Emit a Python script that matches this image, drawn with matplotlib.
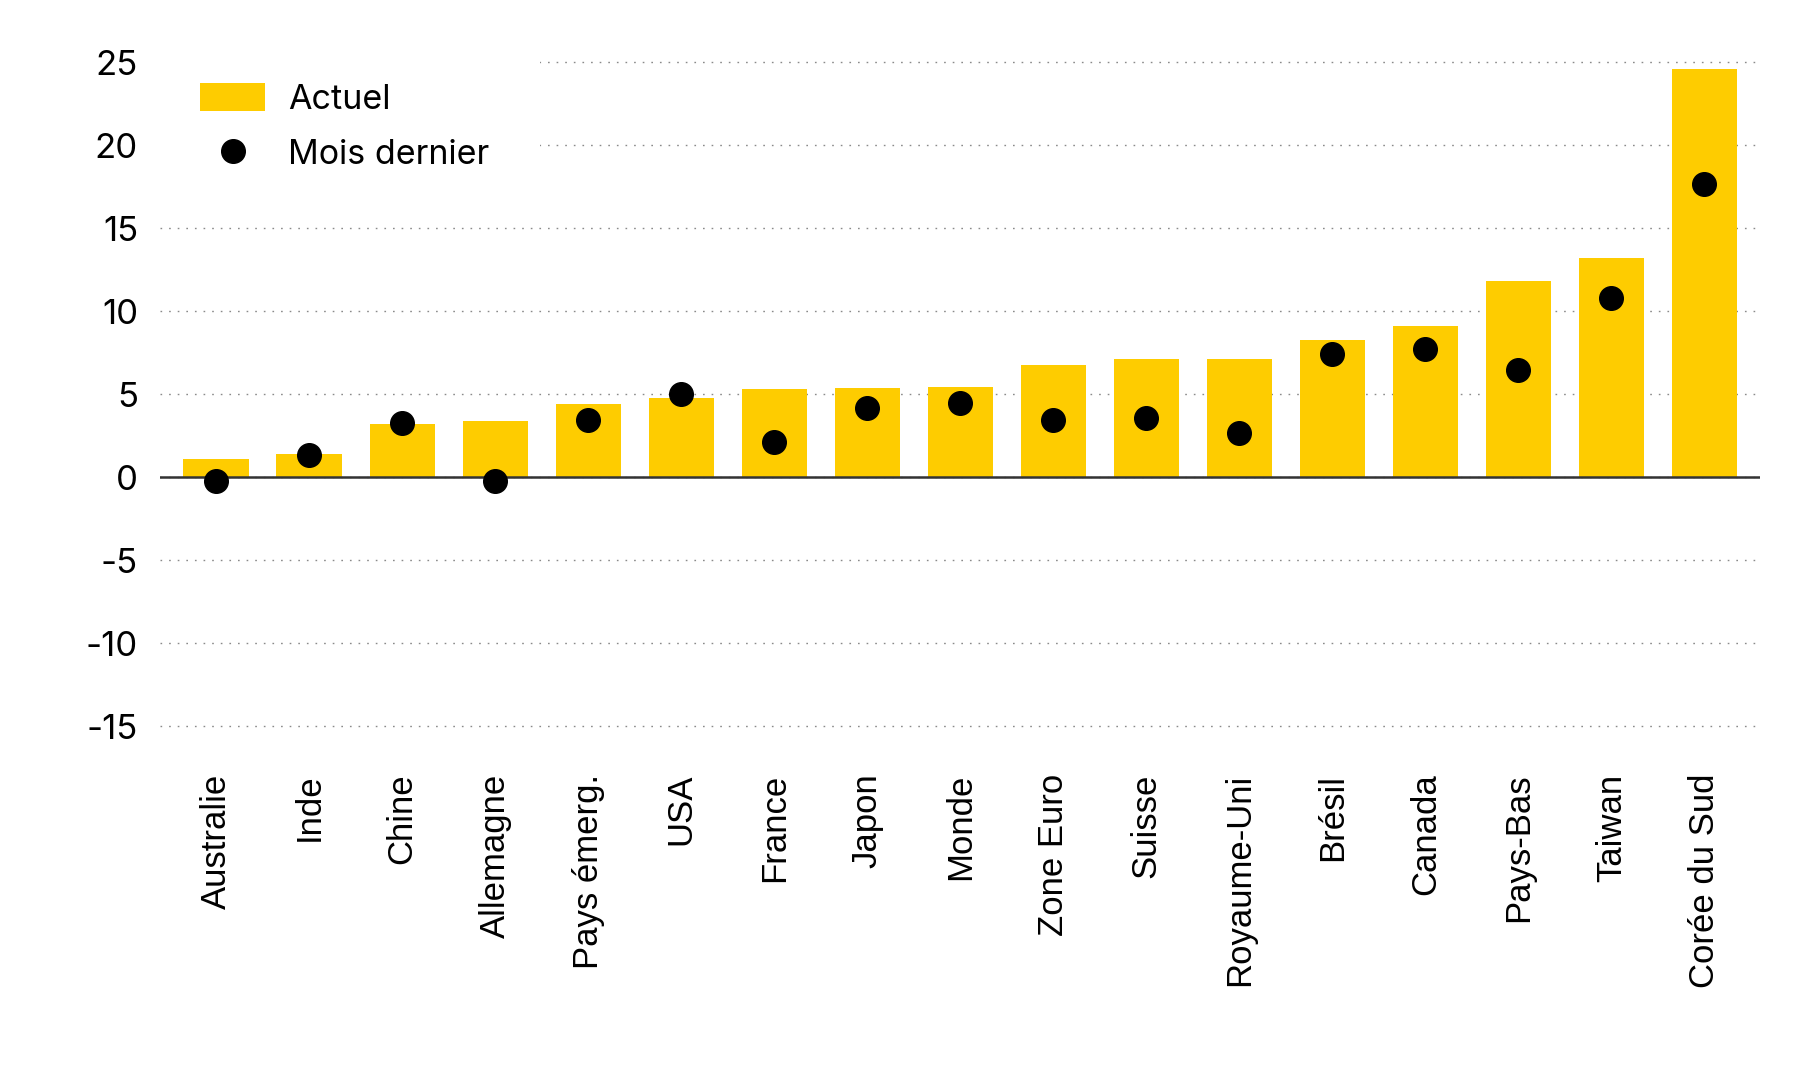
import matplotlib.pyplot as plt
import numpy as np

# Data
countries = ['Australie', 'Inde', 'Chine', 'Allemagne', 'Pays émerg.', 'USA',
             'France', 'Japon', 'Monde', 'Zone Euro', 'Suisse', 'Royaume-Uni',
             'Brésil', 'Canada', 'Pays-Bas', 'Taiwan', 'Corée du Sud']
actuel = [1.1, 1.4, 3.2, 3.4, 4.4, 4.8, 5.3, 5.4, 5.45, 6.75, 7.1, 7.15,
          8.3, 9.1, 11.8, 13.2, 24.6]
mois_dernier = [-0.25, 1.35, 3.3, -0.2, 3.45, 5.0, 2.15, 4.15, 4.5, 3.45,
                3.55, 2.65, 7.4, 7.75, 6.45, 10.8, 17.65]
y_ticks = [-15, -10, -5, 0, 5, 10, 15, 20, 25]

YELLOW = '#FECC00'

plt.rcParams['font.family'] = ['Inter', 'DejaVu Sans']

fig = plt.figure(figsize=(18, 10.8), dpi=100)
ax = fig.add_axes([0.089, 0.3198, 0.8889, 0.6302])

x = np.arange(len(countries))
bars = ax.bar(x, actuel, width=0.7, color=YELLOW, zorder=2, label='Actuel')
ax.axhline(0, color='#333333', linewidth=1.8, zorder=3)
dots, = ax.plot(x, mois_dernier, 'o', color='black', markersize=17, zorder=4,
                label='Mois dernier')

ax.set_xlim(-0.6, len(countries) - 0.4)
ax.set_ylim(-15.5, 25.5)
ax.set_yticks(y_ticks)
ax.set_yticklabels([str(t) for t in y_ticks])
ax.yaxis.grid(True, color='#8a8a8a', linewidth=1.0, linestyle=(0, (1.2, 5)),
              zorder=0)
ax.set_axisbelow(True)

ax.set_xticks(x)
ax.set_xticklabels(countries, rotation=90, va='top', ha='center',
                   family=['Liberation Sans', 'DejaVu Sans'], fontsize=25)
ax.tick_params(axis='x', length=0, pad=28)
ax.tick_params(axis='y', length=0, pad=16, labelsize=25)

for side in ['top', 'right', 'left', 'bottom']:
    ax.spines[side].set_visible(False)

leg = ax.legend([bars, dots], ['Actuel', 'Mois dernier'],
                loc='upper left', bbox_to_anchor=(149 / 1800, 1 - 32 / 1080),
                bbox_transform=fig.transFigure, fontsize=24.5, frameon=True,
                fancybox=False, framealpha=1, edgecolor='none',
                handlelength=1.91, handleheight=0.88, handletextpad=0.68,
                labelspacing=0.66, borderpad=1.5, borderaxespad=0)
leg.set_zorder(5)

fig.savefig('out.png', dpi=100, facecolor='white')
